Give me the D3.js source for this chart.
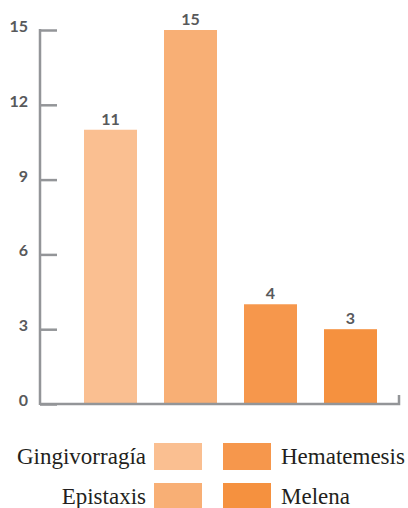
<!DOCTYPE html>
<html>
<head>
<meta charset="utf-8">
<script src="https://cdn.jsdelivr.net/npm/d3@7"></script>
<style>
  html, body { margin: 0; padding: 0; background: #fff; }
  svg { display: block; }
</style>
</head>
<body>
<svg id="chart" width="408" height="508"></svg>
<script>
// Casos por tipo de sangrado
const categories = ["Gingivorragía", "Epistaxis", "Hematemesis", "Melena"];
const values = [11, 15, 4, 3];
const colors = ["#FABF91", "#F8AF75", "#F6974C", "#F5913F"];
const yTicks = [0, 3, 6, 9, 12, 15];

const svg = d3.select("#chart");
const axisColor = "#939598";
const labelColor = "#58595B";

const x0 = 40, x1 = 400, yTop = 30, yBottom = 404;

const x = d3.scaleBand()
  .domain(categories)
  .range([70.5, 390.5])
  .paddingInner(0.3375)
  .paddingOuter(0.16875);

const y = d3.scaleLinear().domain([0, 15]).range([yBottom, yTop]);

// bars
svg.append("g").selectAll("rect")
  .data(categories)
  .join("rect")
  .attr("x", d => x(d))
  .attr("width", x.bandwidth())
  .attr("y", (d, i) => y(values[i]))
  .attr("height", (d, i) => y(0) - y(values[i]))
  .attr("fill", (d, i) => colors[i]);

// value labels
svg.append("g").selectAll("text")
  .data(categories)
  .join("text")
  .attr("x", d => x(d) + x.bandwidth() / 2)
  .attr("y", (d, i) => y(values[i]) - 5)
  .attr("text-anchor", "middle")
  .attr("font-family", "Lato, sans-serif")
  .attr("font-weight", "bold")
  .attr("font-size", 16)
  .attr("fill", labelColor)
  .text((d, i) => values[i]);

// y axis
const yAxis = d3.axisRight(y).tickValues(yTicks).tickSize(17).tickFormat("");
const gy = svg.append("g").attr("transform", `translate(${x0},0)`).call(yAxis);
gy.select(".domain").remove();
gy.selectAll(".tick line").attr("stroke", axisColor).attr("stroke-width", 2.5);
gy.append("line")
  .attr("x1", 0).attr("x2", 0)
  .attr("y1", yTop - 1).attr("y2", yBottom + 1)
  .attr("stroke", axisColor).attr("stroke-width", 2.5);

// y tick labels
svg.append("g").selectAll("text")
  .data(yTicks)
  .join("text")
  .attr("x", 28)
  .attr("y", d => y(d) + 2)
  .attr("text-anchor", "end")
  .attr("font-family", "Lato, sans-serif")
  .attr("font-weight", "bold")
  .attr("font-size", 16)
  .attr("fill", labelColor)
  .text(d => d);

// x axis baseline with end tick
svg.append("path")
  .attr("d", `M${x0},${yBottom}H${x1 - 1}V${yBottom - 9}`)
  .attr("fill", "none")
  .attr("stroke", axisColor)
  .attr("stroke-width", 2.5);

// legend
const legend = [
  { name: categories[0], color: colors[0], col: 0, row: 0 },
  { name: categories[1], color: colors[1], col: 0, row: 1 },
  { name: categories[2], color: colors[2], col: 1, row: 0 },
  { name: categories[3], color: colors[3], col: 1, row: 1 }
];
const lg = svg.append("g").selectAll("g")
  .data(legend)
  .join("g")
  .attr("transform", d => `translate(0,${443 + d.row * 40})`);

lg.append("rect")
  .attr("x", d => d.col === 0 ? 154 : 223)
  .attr("width", 48)
  .attr("height", 27)
  .attr("fill", d => d.color);

lg.append("text")
  .attr("x", d => d.col === 0 ? 146 : 281)
  .attr("y", 21)
  .attr("text-anchor", d => d.col === 0 ? "end" : "start")
  .attr("font-family", "'Liberation Serif', serif")
  .attr("font-size", 23)
  .attr("fill", "#231F20")
  .text(d => d.name);
</script>
</body>
</html>
